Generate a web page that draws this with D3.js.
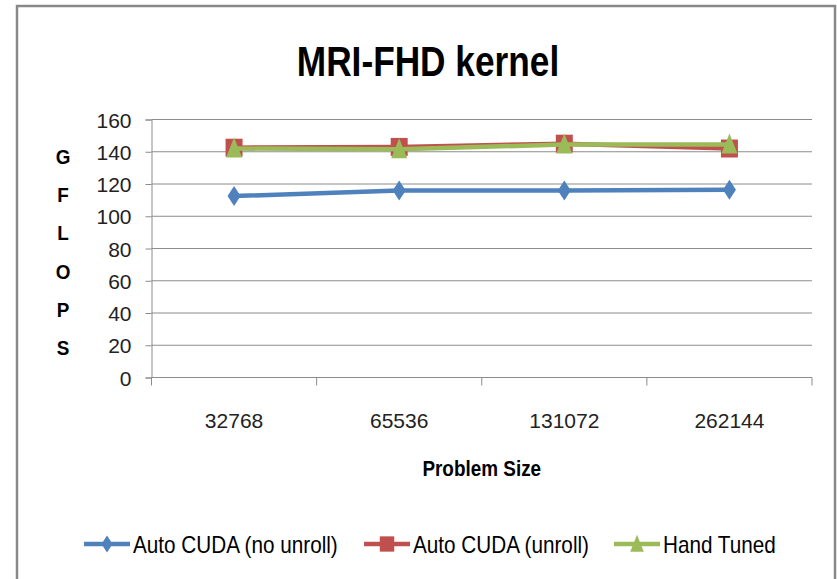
<!DOCTYPE html>
<html><head><meta charset="utf-8">
<script src="https://cdn.jsdelivr.net/npm/d3@7"></script>
<style>body{margin:0;background:#fff}svg{display:block}</style>
</head><body>
<svg id="c" width="837" height="579"></svg>
<script>
const categories = ["32768", "65536", "131072", "262144"];
const seriesNames = ["Auto CUDA (no unroll)", "Auto CUDA (unroll)", "Hand Tuned"];
const noUnroll = [112.5, 116, 116, 116.5];
const unroll = [142.5, 143, 145, 142];
const handTuned = [142, 141.5, 144.5, 144.5];
const yTicks = [0, 20, 40, 60, 80, 100, 120, 140, 160];
const colors = ["#4F81BD", "#C0504D", "#9BBB59"];
const markers = ["diamond", "square", "triangle"];
const title = "MRI-FHD kernel";
const xTitle = "Problem Size";
const yTitle = "GFLOPS";

const series = [noUnroll, unroll, handTuned];
const svg = d3.select("#c");
const FONT = "'Liberation Sans', Arial, sans-serif";

function label(parent, tx, ty, str, size, weight, sx, anchor) {
  return parent.append("text")
    .attr("transform", `translate(${tx},${ty}) scale(${sx},1)`)
    .attr("text-anchor", anchor || "middle")
    .attr("font-family", FONT).attr("font-weight", weight).attr("font-size", size)
    .attr("fill", "#000").text(str);
}

// outer frame
svg.append("path").attr("d", "M17,579 V6 H835 V579")
  .attr("fill", "none").attr("stroke", "#888").attr("stroke-width", 2.5);

const L = 151.5, R = 812, T = 119.5, B = 377.5;
const x = d3.scaleBand().domain(categories).range([L, R]);
const y = d3.scaleLinear().domain([0, 160]).range([B, T]);

// gridlines
svg.append("g").selectAll("line").data(yTicks.filter(d => d > 0)).join("line")
  .attr("x1", L).attr("x2", R).attr("y1", d => y(d)).attr("y2", d => y(d))
  .attr("stroke", "#8c8c8c").attr("stroke-width", 1);

// y axis
const ya = svg.append("g").attr("transform", `translate(${L},0)`)
  .call(d3.axisLeft(y).tickValues(yTicks).tickSize(6).tickPadding(14));
ya.select(".domain").attr("stroke", "#8c8c8c");
ya.selectAll(".tick line").attr("stroke", "#8c8c8c");
ya.selectAll("text").attr("font-family", FONT).attr("font-size", 21).attr("fill", "#222").attr("dy", "0.36em");

// x axis
const xa = svg.append("g").attr("transform", `translate(0,${B})`)
  .call(d3.axisBottom(x).tickSize(0).tickPadding(36));
xa.select(".domain").attr("stroke", "#8c8c8c").attr("d", `M${L},0H${R}`);
xa.selectAll(".tick line").remove();
xa.selectAll("text").attr("font-family", FONT).attr("font-size", 21).attr("fill", "#222");
const xTickPos = categories.map(c => x(c)).concat([R]);
xa.append("g").selectAll("line").data(xTickPos).join("line")
  .attr("x1", d => d).attr("x2", d => d).attr("y1", 0).attr("y2", 8)
  .attr("stroke", "#8c8c8c");

// title
label(svg, 428, 76, title, 43, "bold", 0.82);

// x title
label(svg, (L + R) / 2, 476, xTitle, 22, "bold", 0.86);

// y title stacked
yTitle.split("").forEach((c, i) => label(svg, 63, 164 + i * 38.2, c, 21, "bold", 0.9));

function markerPath(type) {
  if (type === "diamond") return "M0,-10 L6.5,0 L0,10 L-6.5,0 Z";
  if (type === "square") return "M-8.5,-9 H8.5 V9 H-8.5 Z";
  return "M0,-11 L8,9 L-8,9 Z";
}

const line = d3.line().x((d, i) => x(categories[i]) + x.bandwidth() / 2).y(d => y(d));
series.forEach((s, k) => {
  const g = svg.append("g");
  g.append("path").datum(s).attr("d", line).attr("fill", "none")
    .attr("stroke", colors[k]).attr("stroke-width", 4.5).attr("stroke-linejoin", "round");
  g.selectAll("path.m").data(s).join("path").attr("class", "m")
    .attr("d", markerPath(markers[k]))
    .attr("transform", (d, i) => `translate(${x(categories[i]) + x.bandwidth() / 2},${y(d)})`)
    .attr("fill", colors[k]);
});

// legend
const legX = [84, 364, 614];
const legY = 544;
seriesNames.forEach((n, k) => {
  const g = svg.append("g").attr("transform", `translate(${legX[k]},${legY})`);
  g.append("line").attr("x1", 0).attr("x2", 46).attr("y1", 0).attr("y2", 0)
    .attr("stroke", colors[k]).attr("stroke-width", 4.5);
  g.append("path").attr("d", markerPath(markers[k])).attr("transform", "translate(23,0) scale(0.85)")
    .attr("fill", colors[k]);
  label(g, 49, 9, n, 23, "normal", 0.9, "start");
});
</script>
</body></html>
